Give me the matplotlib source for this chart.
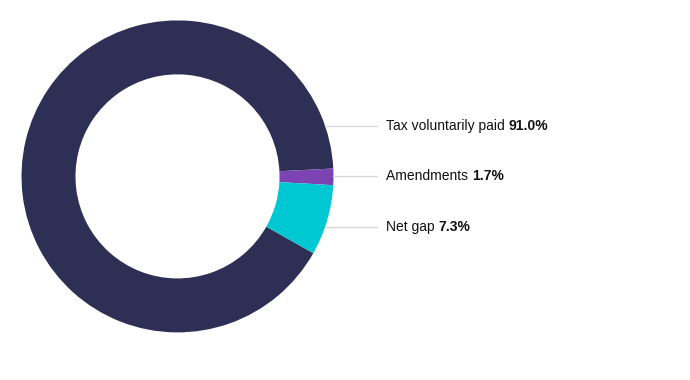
import matplotlib.pyplot as plt
import numpy as np

categorias = ["Tax voluntarily paid", "Amendments", "Net gap"]
porcentajes = [91.0, 1.7, 7.3]
colores = ["#2d3054", "#7b44b2", "#00c8d3"]

plt.rcParams["font.family"] = ["Liberation Sans", "DejaVu Sans"]

fig = plt.figure(figsize=(6.9, 3.8), dpi=100)
ax = fig.add_axes([0, 0, 1, 1])
ax.set_xlim(0, 690)
ax.set_ylim(0, 380)
ax.set_aspect("equal")
ax.axis("off")

cx, cy, radio = 177.5, 203.6, 156
ax.pie(porcentajes, colors=colores, center=(cx, cy), radius=radio,
       startangle=330.5, counterclock=False, frame=True,
       wedgeprops=dict(width=radio * 0.346, linewidth=0))
ax.set_xlim(0, 690)
ax.set_ylim(0, 380)
ax.axis("off")

# etiquetas a la derecha con línea guía
y_etiquetas = [380 - 125.7, 380 - 176, 380 - 226.7]
x_texto = 386
for cat, pct, y in zip(categorias, porcentajes, y_etiquetas):
    dy = y - cy
    x_borde = cx + np.sqrt(radio ** 2 - dy ** 2)
    ax.plot([x_borde, 377], [y, y], color="#d6d6d6", linewidth=0.9)
    t = ax.text(x_texto, y, cat + " ", fontsize=10, va="center", ha="left", color="#111111")
    ax.annotate(f"{pct:.1f}%", xycoords=t, xy=(1, 0.5), va="center", ha="left",
                fontsize=10, fontweight="bold", color="#111111")

fig.savefig("out.png", dpi=100)
